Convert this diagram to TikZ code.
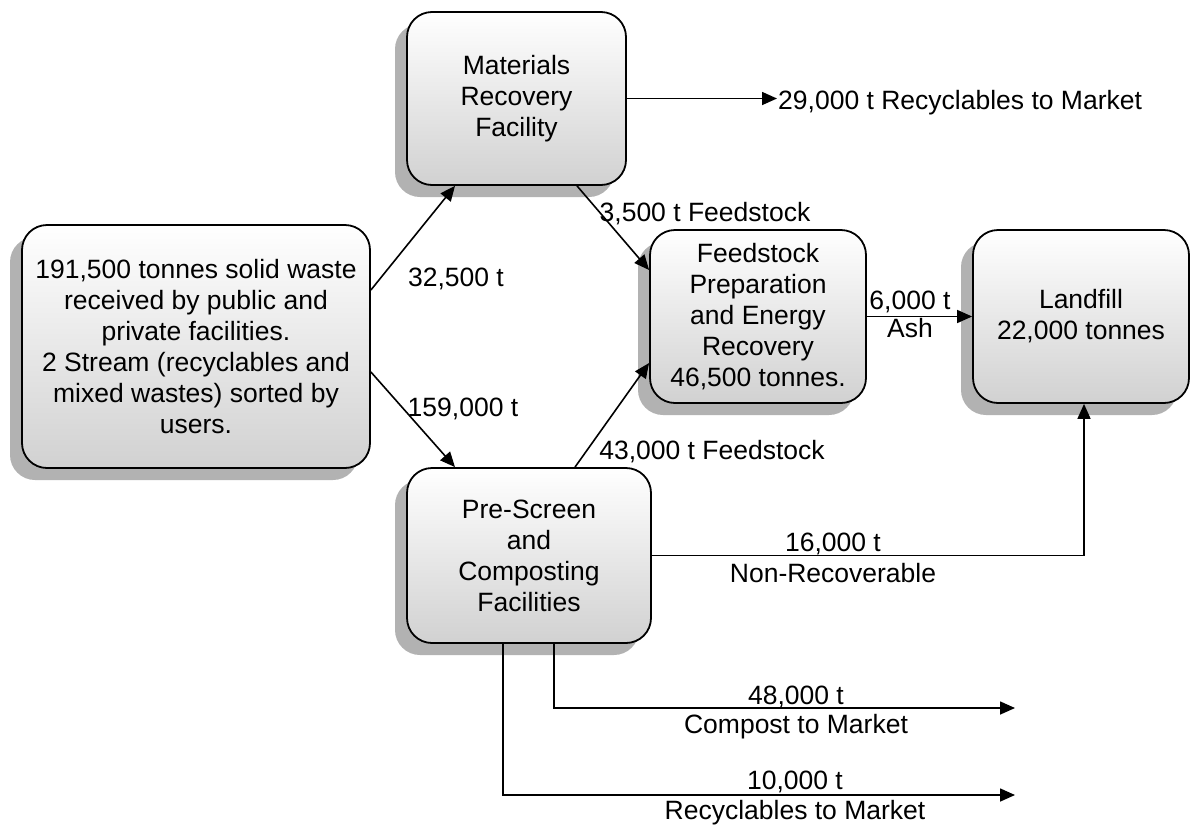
\documentclass[tikz,border=0pt]{standalone}
\usepackage{fontspec}
\setmainfont{Liberation Sans}
\usetikzlibrary{arrows.meta,shadows,calc}
\begin{document}
\begin{tikzpicture}[x=1pt,y=-1pt,
  every node/.style={font=\fontsize{26.5}{31}\selectfont},
  box/.style={draw=black, line width=1.8pt, rounded corners=25pt, align=center,
    top color=white, bottom color=black!18, inner sep=0pt,
    drop shadow={shadow xshift=-12pt, shadow yshift=-12pt, fill=black!30, opacity=1}},
  lab/.style={inner sep=0pt, text height=18pt, text depth=0pt},
  flow/.style={line width=1.6pt, -{Triangle[length=15pt,width=13pt]}},
  line/.style={line width=1.6pt}]
\useasboundingbox (0,0) rectangle (1191,825);

\node[box, minimum width=348pt, minimum height=243pt] (L) at (196,346.5)
  {191,500 tonnes solid waste\\received by public and\\private facilities.\\2 Stream (recyclables and\\mixed wastes) sorted by\\users.};
\node[box, minimum width=219pt, minimum height=173pt] (M) at (516.5,98.5)
  {Materials\\Recovery\\Facility};
\node[box, minimum width=216pt, minimum height=173pt] (F) at (758,316.5)
  {Feedstock\\Preparation\\and Energy\\Recovery\\46,500 tonnes.};
\node[box, minimum width=216pt, minimum height=173pt] (D) at (1081,316.5)
  {Landfill\\22,000 tonnes};
\node[box, minimum width=244pt, minimum height=175pt] (P) at (529,555.5)
  {Pre-Screen\\and\\Composting\\Facilities};

\coordinate (r1) at (777,98.5);
\coordinate (c1) at (1015,708);
\coordinate (c2) at (1015,795);

\draw[flow] ([yshift=56.5pt]L.east) -- ([xshift=-61.5pt]M.south);
\draw[flow] ([yshift=-25.5pt]L.east) -- ([xshift=-74pt]P.north);
\draw[flow] ([xshift=60.5pt]M.south) -- ([yshift=46.5pt]F.west);
\draw[flow] ([xshift=46pt]P.north) -- ([yshift=-46.5pt]F.west);
\draw[flow] (M.east) -- (r1);
\draw[flow] (F.east) -- (D.west);
\draw[flow] (P.east) -| ([xshift=3pt]D.south);
\draw[flow] ([xshift=25pt]P.south) |- (c1);
\draw[flow] ([xshift=-26pt]P.south) |- (c2);

\node[lab] (l1) at (456,277) {32,500 t};
\node[lab] (l2) at (463,407) {159,000 t};
\node[lab] (l3) at (705,212) {3,500 t Feedstock};
\node[lab] (l4) at (712,450) {43,000 t Feedstock};
\node[lab, anchor=west] (l5) at (778,100) {29,000 t Recyclables to Market};
\node[lab] (l6) at (910,300) {6,000 t};
\node[lab] (l7) at (910,328) {Ash};
\node[lab] (l8) at (833,542) {16,000 t};
\node[lab] (l9) at (833,573) {Non-Recoverable};
\node[lab] (l10) at (796,695) {48,000 t};
\node[lab] (l11) at (796,724) {Compost to Market};
\node[lab] (l12) at (795,780) {10,000 t};
\node[lab] (l13) at (795,810) {Recyclables to Market};
\end{tikzpicture}
\end{document}
